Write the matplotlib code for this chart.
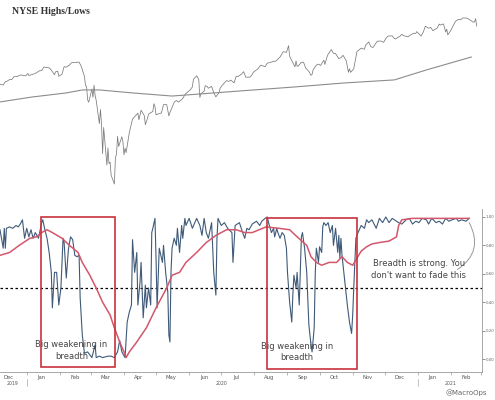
import matplotlib
matplotlib.use("Agg")
import matplotlib.pyplot as plt
import matplotlib.dates as mdates
import matplotlib.patches as patches
import pandas as pd

# ---------------- data ----------------
price_dates = [
 "2019-12-06","2019-12-09","2019-12-10","2019-12-12","2019-12-13","2019-12-16","2019-12-18","2019-12-20","2019-12-23","2019-12-26","2019-12-27","2019-12-31",
 "2020-01-02","2020-01-03","2020-01-06","2020-01-08","2020-01-10","2020-01-13","2020-01-15","2020-01-17","2020-01-21","2020-01-22","2020-01-24","2020-01-27","2020-01-28","2020-01-30","2020-01-31",
 "2020-02-03","2020-02-05","2020-02-07","2020-02-10","2020-02-12","2020-02-14","2020-02-19","2020-02-21","2020-02-24","2020-02-25","2020-02-26","2020-02-27","2020-02-28",
 "2020-03-02","2020-03-03","2020-03-04","2020-03-05","2020-03-06","2020-03-09","2020-03-10","2020-03-11","2020-03-12","2020-03-13","2020-03-16","2020-03-17","2020-03-18","2020-03-19","2020-03-20","2020-03-23","2020-03-24","2020-03-25","2020-03-26","2020-03-27","2020-03-30","2020-03-31",
 "2020-04-01","2020-04-02","2020-04-03","2020-04-06","2020-04-08","2020-04-09","2020-04-14","2020-04-15","2020-04-17","2020-04-20","2020-04-21","2020-04-23","2020-04-24","2020-04-28","2020-04-29","2020-04-30",
 "2020-05-01","2020-05-04","2020-05-06","2020-05-08","2020-05-11","2020-05-13","2020-05-14","2020-05-18","2020-05-20","2020-05-22","2020-05-26","2020-05-28","2020-05-29",
 "2020-06-02","2020-06-04","2020-06-05","2020-06-08","2020-06-10","2020-06-11","2020-06-12","2020-06-15","2020-06-16","2020-06-18","2020-06-19","2020-06-22","2020-06-24","2020-06-26","2020-06-29","2020-06-30",
 "2020-07-02","2020-07-06","2020-07-08","2020-07-10","2020-07-13","2020-07-15","2020-07-17","2020-07-20","2020-07-22","2020-07-24","2020-07-28","2020-07-30","2020-07-31",
 "2020-08-04","2020-08-07","2020-08-11","2020-08-13","2020-08-18","2020-08-21","2020-08-25","2020-08-28","2020-08-31",
 "2020-09-02","2020-09-03","2020-09-04","2020-09-08","2020-09-09","2020-09-10","2020-09-11","2020-09-14","2020-09-16","2020-09-18","2020-09-21","2020-09-23","2020-09-24","2020-09-25","2020-09-28","2020-09-30",
 "2020-10-02","2020-10-05","2020-10-06","2020-10-08","2020-10-09","2020-10-12","2020-10-14","2020-10-16","2020-10-19","2020-10-21","2020-10-23","2020-10-26","2020-10-28","2020-10-29","2020-10-30",
 "2020-11-02","2020-11-04","2020-11-05","2020-11-09","2020-11-10","2020-11-12","2020-11-13","2020-11-16","2020-11-18","2020-11-20","2020-11-24","2020-11-27","2020-11-30",
 "2020-12-02","2020-12-04","2020-12-08","2020-12-10","2020-12-11","2020-12-15","2020-12-17","2020-12-18","2020-12-21","2020-12-23","2020-12-24","2020-12-28","2020-12-30","2020-12-31",
 "2021-01-04","2021-01-06","2021-01-08","2021-01-11","2021-01-13","2021-01-15","2021-01-19","2021-01-21","2021-01-22","2021-01-25","2021-01-27","2021-01-28","2021-01-29",
 "2021-02-01","2021-02-03","2021-02-05","2021-02-08","2021-02-10","2021-02-12","2021-02-16","2021-02-18","2021-02-19","2021-02-22","2021-02-23","2021-02-24","2021-02-25"]
price_values = [
 3145,3135,3132,3168,3169,3191,3191,3221,3224,3240,3240,3231,
 3258,3235,3246,3253,3265,3288,3289,3330,3321,3321,3295,3244,3276,3284,3226,
 3249,3334,3328,3352,3380,3380,3386,3338,3226,3128,3116,2979,2954,
 3090,3003,3130,3024,2972,2747,2882,2741,2481,2711,2386,2529,2398,2409,2305,2237,2447,2476,2630,2541,2627,2585,
 2471,2527,2489,2664,2750,2790,2846,2783,2875,2823,2737,2798,2837,2863,2939,2912,
 2831,2842,2848,2930,2930,2820,2852,2954,2972,2955,2992,3030,3044,
 3081,3112,3194,3232,3190,3002,3041,3067,3125,3115,3098,3118,3050,3009,3053,3100,
 3130,3180,3170,3185,3155,3227,3225,3251,3277,3216,3218,3246,3271,
 3306,3351,3333,3373,3390,3397,3444,3508,3500,
 3580,3455,3427,3332,3399,3339,3341,3383,3385,3319,3281,3237,3247,3298,3351,3363,
 3348,3408,3361,3447,3477,3534,3489,3484,3427,3436,3465,3401,3271,3310,3270,
 3310,3443,3510,3550,3545,3537,3585,3627,3568,3558,3635,3638,3622,
 3669,3699,3702,3668,3663,3695,3722,3709,3694,3690,3703,3735,3732,3756,
 3700,3748,3825,3799,3809,3768,3799,3853,3841,3855,3750,3787,3714,
 3774,3830,3887,3916,3910,3934,3932,3913,3906,3877,3881,3925,3829]

ma200_dates = ["2019-12-07","2020-01-06","2020-02-07","2020-02-22","2020-03-09","2020-04-09","2020-05-16",
               "2020-06-11","2020-07-18","2020-09-07","2020-10-24","2020-12-10","2021-01-09","2021-02-20"]
ma200_values = [2957,3007,3049,3080,3080,3049,3017,3038,3069,3111,3154,3187,3297,3445]

breadth_dates = [
 "2019-12-07","2019-12-10","2019-12-11","2019-12-12","2019-12-13","2019-12-16","2019-12-19","2019-12-22","2019-12-24","2019-12-26","2019-12-28","2019-12-30",
 "2020-01-01","2020-01-03","2020-01-05","2020-01-07","2020-01-09","2020-01-12","2020-01-15","2020-01-16","2020-01-18","2020-01-20","2020-01-22","2020-01-24","2020-01-25","2020-01-27","2020-01-29","2020-01-31",
 "2020-02-02","2020-02-04","2020-02-05","2020-02-07","2020-02-09","2020-02-11","2020-02-13","2020-02-15","2020-02-17","2020-02-19","2020-02-20","2020-02-22","2020-02-24","2020-02-27",
 "2020-03-02","2020-03-05","2020-03-06","2020-03-09","2020-03-12","2020-03-17","2020-03-20","2020-03-23","2020-03-26","2020-03-28","2020-03-30",
 "2020-04-02","2020-04-04","2020-04-06","2020-04-08","2020-04-09","2020-04-11","2020-04-13","2020-04-14","2020-04-16","2020-04-17","2020-04-19","2020-04-21","2020-04-22","2020-04-24","2020-04-26","2020-04-27","2020-04-28","2020-04-30",
 "2020-05-01","2020-05-02","2020-05-04","2020-05-07","2020-05-08","2020-05-10","2020-05-12","2020-05-13","2020-05-14","2020-05-15","2020-05-16","2020-05-18","2020-05-20","2020-05-21","2020-05-23","2020-05-25","2020-05-26","2020-05-28","2020-05-29",
 "2020-06-01","2020-06-04","2020-06-08","2020-06-11","2020-06-13","2020-06-15","2020-06-17","2020-06-19","2020-06-22","2020-06-24","2020-06-26","2020-06-27","2020-06-28",
 "2020-07-01","2020-07-04","2020-07-07","2020-07-11","2020-07-12","2020-07-14","2020-07-18","2020-07-21","2020-07-23","2020-07-25","2020-07-27","2020-07-30",
 "2020-08-03","2020-08-06","2020-08-08","2020-08-11","2020-08-13","2020-08-15","2020-08-17","2020-08-19","2020-08-20","2020-08-22","2020-08-23","2020-08-25","2020-08-27","2020-08-29","2020-08-31",
 "2020-09-01","2020-09-03","2020-09-05","2020-09-06","2020-09-07","2020-09-09","2020-09-10","2020-09-12","2020-09-14","2020-09-15","2020-09-17","2020-09-19","2020-09-20","2020-09-21","2020-09-23","2020-09-24","2020-09-26","2020-09-27","2020-09-28","2020-09-30",
 "2020-10-01","2020-10-03","2020-10-04","2020-10-05","2020-10-07","2020-10-09","2020-10-11","2020-10-13","2020-10-14","2020-10-16","2020-10-18","2020-10-19","2020-10-20","2020-10-21","2020-10-22","2020-10-25","2020-10-27","2020-10-29","2020-10-31",
 "2020-11-01","2020-11-02","2020-11-04","2020-11-06","2020-11-09","2020-11-12","2020-11-14","2020-11-16","2020-11-19","2020-11-23","2020-11-26","2020-11-29",
 "2020-12-02","2020-12-05","2020-12-08","2020-12-12","2020-12-14","2020-12-17","2020-12-21","2020-12-24","2020-12-27","2020-12-30",
 "2021-01-02","2021-01-05","2021-01-09","2021-01-11","2021-01-14","2021-01-18","2021-01-21","2021-01-24","2021-01-27","2021-01-30",
 "2021-02-02","2021-02-06","2021-02-08","2021-02-11","2021-02-15","2021-02-18"]
breadth_values = [
 .91,.78,.92,.78,.92,.93,.92,.94,.93,.95,.98,.85,
 .92,.86,.91,.85,.89,.85,.96,.98,.91,.85,.75,.61,.36,.61,.61,.38,
 .50,.85,.82,.57,.77,.86,.84,.73,.72,.73,.43,.17,.04,.05,
 .01,.10,.01,.02,.01,.02,.02,.01,.05,.13,.05,
 .01,.26,.33,.38,.84,.61,.75,.38,.54,.68,.29,.52,.36,.50,.38,.89,.92,.99,
 .71,.36,.78,.68,.80,.61,.47,.17,.12,.61,.78,.85,.80,.92,.75,.94,.85,.99,.94,
 .99,.92,.99,.94,.87,.99,.89,.85,.96,.61,.45,.85,.99,
 .94,.96,.92,.89,.68,.94,.96,.89,.85,.92,.91,.95,
 .97,.94,.97,.99,1.0,.94,.89,.92,.86,.92,.89,.85,.89,.87,.78,
 .61,.40,.26,.45,.59,.50,.61,.38,.86,.89,.78,.61,.43,.24,.10,.05,.22,.61,.78,.68,
 .79,.75,.93,.96,.94,.96,.89,.94,.80,.92,.75,.87,.71,.85,.73,.52,.38,.26,.18,
 .31,.50,.85,.89,.94,.92,.98,.96,.98,.92,.99,.96,
 1.0,.96,.99,.97,.96,.95,.98,.99,.95,.97,
 .96,.99,.98,.95,.99,.96,.97,.95,.99,.97,
 .98,.99,.97,.98,.97,.99]

breadth_ma_dates = [
 "2019-12-07","2019-12-16","2019-12-25","2020-01-04","2020-01-10","2020-01-15","2020-01-20","2020-01-25",
 "2020-02-03","2020-02-10","2020-02-18","2020-02-22","2020-02-29","2020-03-06","2020-03-12","2020-03-19",
 "2020-03-23","2020-03-28","2020-04-01","2020-04-03","2020-04-06","2020-04-13","2020-04-22","2020-05-01",
 "2020-05-11","2020-05-16","2020-05-23","2020-05-29","2020-06-08","2020-06-17","2020-06-26","2020-07-06",
 "2020-07-15","2020-07-23","2020-07-30","2020-08-12","2020-08-24","2020-09-03","2020-09-10","2020-09-19",
 "2020-09-23","2020-09-28","2020-10-03","2020-10-10","2020-10-17","2020-10-22","2020-10-27","2020-11-01",
 "2020-11-05","2020-11-09","2020-11-14","2020-11-19","2020-11-26","2020-12-05","2020-12-12","2020-12-14",
 "2020-12-17","2020-12-27","2021-01-24","2021-02-18"]
breadth_ma_values = [
 .73,.75,.80,.85,.86,.89,.91,.89,
 .85,.80,.75,.68,.59,.50,.40,.31,
 .22,.12,.05,.01,.05,.12,.22,.36,
 .50,.59,.61,.68,.75,.82,.87,.91,
 .91,.89,.89,.93,.92,.91,.86,.80,
 .72,.68,.66,.68,.68,.72,.68,.66,
 .71,.76,.79,.81,.82,.83,.86,.94,
 .98,.99,.99,.99]

right_ticks = [0.0, 0.2, 0.4, 0.6, 0.8, 1.0]
boxes = [("2020-01-14", "2020-03-24", -0.056, 1.0), ("2020-08-13", "2020-11-05", -0.07, 0.993)]

# ---------------- figure ----------------
plt.rcParams['font.family'] = ['DejaVu Sans']
fig = plt.figure(figsize=(4.95, 4.0), dpi=100)
W, H = 495.0, 400.0
xmin, xmax = pd.Timestamp("2019-12-07"), pd.Timestamp("2021-03-02")

ax1 = fig.add_axes([0, 1 - 190 / H, 482 / W, 180 / H])
ax2 = fig.add_axes([0, 1 - 372 / H, 482 / W, 163 / H])

# top panel
ax1.plot(pd.to_datetime(price_dates), price_values, color="#7a7a7a", lw=0.55)
ax1.plot(pd.to_datetime(ma200_dates), ma200_values, color="#8c8c8c", lw=0.8)
ax1.set_yscale("log")
ax1.set_ylim(2192, 4042)
ax1.set_xlim(xmin, xmax)
ax1.axis("off")

fig.text(12 / W, 1 - 12 / H, "NYSE Highs/Lows", family=["Liberation Serif", "DejaVu Serif"],
         fontweight="bold", fontsize=7, color="#333333", ha="left", va="center")

# bottom panel
ax2.plot(pd.to_datetime(breadth_dates), breadth_values, color="#3f5a78", lw=0.8, zorder=3)
ax2.plot(pd.to_datetime(breadth_ma_dates), breadth_ma_values, color="#d4566b", lw=1.1, zorder=4)
ax2.axhline(0.5, color="black", lw=0.9, ls=(0, (2, 2)), zorder=2)

for x0, x1, y0, y1 in boxes:
    t0 = mdates.date2num(pd.Timestamp(x0))
    t1 = mdates.date2num(pd.Timestamp(x1))
    ax2.add_patch(patches.Rectangle((t0, y0), t1 - t0, y1 - y0, fill=False,
                                    edgecolor="#c8323c", lw=1.2, zorder=5, clip_on=False))

ax2.set_xlim(xmin, xmax)
ax2.set_ylim(-0.0915, 1.056)

for s in ["left", "top"]:
    ax2.spines[s].set_visible(False)
for s in ["right", "bottom"]:
    ax2.spines[s].set_color("#9a9a9a")
    ax2.spines[s].set_linewidth(0.6)

narrow = ["Liberation Sans Narrow", "DejaVu Sans"]
ax2.yaxis.tick_right()
ax2.set_yticks(right_ticks)
ax2.set_yticklabels([f"{v:.2f}" for v in right_ticks], family=narrow)
ax2.tick_params(axis="y", labelsize=2.8, colors="#666666", length=2, width=0.5, pad=0.8)

ax2.xaxis.set_minor_locator(mdates.MonthLocator())
ax2.xaxis.set_major_locator(mdates.MonthLocator(bymonthday=15))
ax2.xaxis.set_major_formatter(mdates.DateFormatter("%b"))
ax2.tick_params(axis="x", which="major", length=0, labelsize=3.8, colors="#555555", pad=2)
ax2.tick_params(axis="x", which="minor", length=2, width=0.5, color="#9a9a9a")

for yd in ["2020-01-01", "2021-01-01"]:
    ax2.axvline(pd.Timestamp(yd), ymin=-0.085, ymax=-0.045, color="#aaaaaa", lw=0.5, clip_on=False)
for yd, lab in [("2019-12-19", "2019"), ("2020-07-01", "2020"), ("2021-02-01", "2021")]:
    ax2.text(pd.Timestamp(yd), -0.072, lab, transform=ax2.get_xaxis_transform(),
             fontsize=3.3, color="#555555", ha="center", va="center")

ax2.text(pd.Timestamp("2020-02-12"), 0.06, "Big weakening in\nbreadth", family=narrow, fontsize=6,
         color="#444444", ha="center", va="center", linespacing=1.3, zorder=6)
ax2.text(pd.Timestamp("2020-09-10"), 0.05, "Big weakening in\nbreadth", family=narrow, fontsize=6,
         color="#444444", ha="center", va="center", linespacing=1.3, zorder=6)
ax2.text(pd.Timestamp("2021-01-02"), 0.63, "Breadth is strong. You\ndon't want to fade this", family=narrow,
         fontsize=6, color="#444444", ha="center", va="center", linespacing=1.5, zorder=6)
ax2.annotate("", xy=(pd.Timestamp("2021-02-18"), 0.96), xytext=(pd.Timestamp("2021-02-07"), 0.63),
             arrowprops=dict(arrowstyle="-", color="#999999", lw=0.7, shrinkA=0, shrinkB=0,
                             connectionstyle="arc3,rad=0.45"))

fig.text(487 / W, 1 - 393 / H, "@MacroOps", fontsize=5, color="#666666", ha="right", va="center")

fig.savefig("out.png", dpi=100)
